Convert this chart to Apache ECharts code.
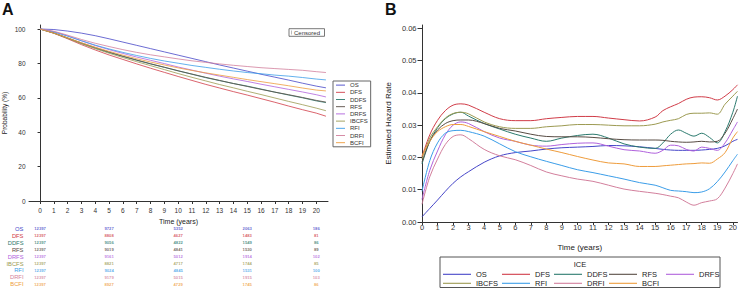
<!DOCTYPE html>
<html><head><meta charset="utf-8">
<script src="https://cdn.jsdelivr.net/npm/echarts@6/dist/echarts.min.js"></script>
<style>html,body{margin:0;padding:0;background:#fff}#c{width:740px;height:289px}</style>
</head><body><div id="c"></div>
<script>
// ---- categories ----
const names = ['OS','DFS','DDFS','RFS','DRFS','IBCFS','RFI','DRFI','BCFI'];
const colors = ['#4646c8','#d03c48','#2b7a6e','#584c44','#b062dc','#9c9a52','#3b9de8','#d27f9c','#ee9c3c'];

// ---- Panel A: Kaplan-Meier probability (%) ----
const kmTime = [0,1,2,3,4,5,6,7,8,9,10,11,12,13,14,15,16,17,18,19,20,20.7];
const kmOS    = [100,99.7,98.8,97.6,96.1,94.3,92.4,90.5,88.6,86.7,84.8,82.9,81.0,79.1,77.3,75.5,73.7,72.0,70.3,68.5,66.8,65.8];
const kmDFS   = [100,97.5,94.3,90.9,87.8,84.9,82.3,79.7,77.2,74.8,72.4,70.1,67.8,65.7,63.6,61.6,59.5,57.4,55.2,53.1,51.1,49.3];
const kmDDFS  = [100,97.7,94.7,91.6,88.8,86.3,84.0,81.8,79.7,77.7,75.7,73.7,71.7,70.0,68.3,66.8,65.1,63.3,61.6,60.0,58.2,57.2];
const kmRFS   = [100,97.7,94.8,91.9,89.2,86.6,84.2,82.0,79.8,77.8,75.7,73.8,71.9,70.1,68.3,66.6,64.9,63.3,61.8,60.2,58.5,57.5];
const kmDRFS  = [100,98.5,96.0,93.1,90.4,88.0,85.8,83.7,81.8,79.9,77.9,76.1,74.3,72.6,71.0,69.5,67.9,66.4,64.9,63.4,61.8,60.5];
const kmIBCFS = [100,97.6,94.6,91.5,88.6,85.9,83.4,81.0,78.7,76.4,74.1,71.9,69.8,67.7,65.8,63.8,61.9,59.9,57.9,56.0,54.0,52.5];
const kmRFI   = [100,98.3,95.8,93.2,90.6,88.4,86.4,84.6,82.9,81.4,80.1,78.8,77.7,76.6,75.6,74.7,74.0,73.2,72.6,71.8,70.9,70.4];
const kmDRFI  = [100,98.7,96.4,93.9,91.7,89.8,88.0,86.4,85.0,83.8,82.6,81.5,80.6,79.7,78.9,78.2,77.5,77.0,76.5,76.0,75.2,74.7];
const kmBCFI  = [100,97.6,94.8,92.0,89.4,87.0,84.8,82.7,80.8,79.1,77.4,75.9,74.5,73.2,71.9,70.6,69.4,68.2,67.0,65.7,64.5,64.0];
const kmAll = [kmOS,kmDFS,kmDDFS,kmRFS,kmDRFS,kmIBCFS,kmRFI,kmDRFI,kmBCFI];

// ---- Panel A: number at risk ----
const riskTime  = [0,5,10,15,20];
const riskOS    = [12397,9727,5352,2063,186];
const riskDFS   = [12397,8808,4627,1483,81];
const riskDDFS  = [12397,9056,4822,1549,86];
const riskRFS   = [12397,9019,4841,1530,89];
const riskDRFS  = [12397,9161,5012,1914,102];
const riskIBCFS = [12397,8821,4717,1744,85];
const riskRFI   = [12397,9024,4845,1531,100];
const riskDRFI  = [12397,9179,5015,1915,103];
const riskBCFI  = [12397,8927,4729,1745,86];
const riskAll = [riskOS,riskDFS,riskDDFS,riskRFS,riskDRFS,riskIBCFS,riskRFI,riskDRFI,riskBCFI];

// ---- Panel B: estimated hazard rate ----
const hzTime  = [0,0.5,1,1.5,2,2.5,3,4,5,6,7,8,9,10,11,12,13,14,15,15.5,16,16.5,17,17.5,18,18.5,19,19.5,20,20.3];
const hzOS    = [0.0016,0.0042,0.0068,0.0095,0.012,0.014,0.0156,0.0185,0.0205,0.0215,0.022,0.0226,0.023,0.0232,0.0234,0.0237,0.0236,0.0233,0.0228,0.0225,0.0223,0.0222,0.0222,0.0222,0.0223,0.0225,0.0228,0.0236,0.025,0.0256];
const hzDFS   = [0.0202,0.027,0.0315,0.0345,0.0362,0.0366,0.0362,0.034,0.032,0.0314,0.0314,0.032,0.0324,0.0327,0.0327,0.0322,0.0317,0.0313,0.0325,0.0345,0.0357,0.0367,0.038,0.0387,0.0388,0.0385,0.0378,0.039,0.041,0.0425];
const hzDDFS  = [0.018,0.025,0.0292,0.032,0.0335,0.034,0.0328,0.0305,0.0288,0.0272,0.026,0.025,0.026,0.0268,0.0272,0.026,0.0242,0.0232,0.0228,0.0245,0.0272,0.0285,0.0275,0.0266,0.0275,0.0262,0.0245,0.028,0.034,0.039];
const hzRFS   = [0.0185,0.025,0.0285,0.0305,0.0314,0.0316,0.0316,0.0305,0.029,0.0282,0.0272,0.0265,0.0264,0.0264,0.0262,0.0258,0.0255,0.0254,0.0254,0.0253,0.025,0.0248,0.0247,0.0248,0.025,0.0248,0.025,0.0275,0.032,0.035];
const hzDRFS  = [0.007,0.016,0.022,0.027,0.03,0.031,0.0305,0.028,0.026,0.025,0.0238,0.0235,0.024,0.0244,0.0245,0.0235,0.0224,0.022,0.0213,0.0222,0.0238,0.0236,0.0225,0.022,0.0232,0.0228,0.0222,0.0245,0.0285,0.031];
const hzIBCFS = [0.0195,0.026,0.0295,0.0322,0.0336,0.034,0.0335,0.031,0.0295,0.029,0.029,0.0295,0.0298,0.0302,0.0302,0.03,0.0298,0.0298,0.0303,0.031,0.0315,0.032,0.0333,0.0337,0.0337,0.0338,0.0334,0.0365,0.039,0.0405];
const hzRFI   = [0.0095,0.019,0.0245,0.0275,0.0283,0.0284,0.028,0.0266,0.0242,0.0218,0.0202,0.0188,0.0175,0.0162,0.0153,0.0143,0.0133,0.0122,0.0114,0.0106,0.0098,0.0096,0.0094,0.0091,0.0093,0.0103,0.0125,0.0155,0.019,0.021];
const hzDRFI  = [0.0055,0.014,0.0195,0.024,0.0265,0.027,0.0258,0.0225,0.0205,0.0193,0.0175,0.0155,0.0143,0.0133,0.0126,0.0114,0.0102,0.0095,0.0089,0.0085,0.008,0.0075,0.0062,0.0052,0.006,0.0065,0.0072,0.0105,0.015,0.018];
const hzBCFI  = [0.0205,0.025,0.028,0.0295,0.0302,0.0302,0.0296,0.028,0.0265,0.025,0.0238,0.0226,0.0215,0.0203,0.0192,0.0183,0.018,0.0172,0.0172,0.0174,0.0176,0.0178,0.018,0.0181,0.0183,0.0182,0.0195,0.0215,0.026,0.028];
const hzAll = [hzOS,hzDFS,hzDDFS,hzRFS,hzDRFS,hzIBCFS,hzRFI,hzDRFI,hzBCFI];

// ---- tick labels ----
const xTicksA = [0,1,2,3,4,5,6,7,8,9,10,11,12,13,14,15,16,17,18,19,20];
const yTicksA = [0,20,40,60,80,100];
const xTicksB = [0,1,2,3,4,5,6,7,8,9,10,11,12,13,14,15,16,17,18,19,20];
const yTicksB = [0,0.01,0.02,0.03,0.04,0.05,0.06];

// ---- layout constants ----
const FONT = 'Liberation Sans';
const AX = '#333';
const colLeftsB = [443,502,554,609,666];

const chart = echarts.init(document.getElementById('c'), null, {renderer:'svg'});

const series = [];
names.forEach((n,i)=>{
  series.push({
    name:n, type:'line', xAxisIndex:0, yAxisIndex:0,
    data: kmTime.map((t,j)=>[t, kmAll[i][j]]),
    symbol:'none', showSymbol:false, smooth:false,
    lineStyle:{width:0.8, color:colors[i]}, itemStyle:{color:colors[i]}, silent:true
  });
});
names.forEach((n,i)=>{
  series.push({
    name:n+' at risk', type:'scatter', xAxisIndex:1, yAxisIndex:1,
    data: riskTime.map((t,j)=>[t, n, riskAll[i][j]]),
    symbolSize:1, itemStyle:{color:'rgba(0,0,0,0)'}, silent:true,
    label:{show:true, position:'inside', formatter:p=>String(p.value[2]),
      fontSize:4.2, fontWeight:'bold', color:colors[i], fontFamily:FONT}
  });
});
names.forEach((n,i)=>{
  series.push({
    name:n, type:'line', xAxisIndex:2, yAxisIndex:2,
    data: hzTime.map((t,j)=>[t, hzAll[i][j]]),
    symbol:'none', showSymbol:false, smooth:0.35,
    lineStyle:{width:1, color:colors[i]}, itemStyle:{color:colors[i]}, silent:true
  });
});

const legends = [{
  data:names, left:333, top:81, orient:'vertical', icon:'rect',
  itemWidth:9, itemHeight:0.9, itemGap:0, padding:[0.5,3,0.5,3],
  borderColor:'#666', borderWidth:1, selectedMode:false,
  textStyle:{fontSize:6, color:'#333', fontFamily:FONT, lineHeight:7.2, height:7.2}
}];
colLeftsB.forEach((l,c)=>{
  legends.push({
    data:names.filter((_,i)=>i%5===c), left:l, top:269.8, orient:'vertical', icon:'rect',
    itemWidth:28, itemHeight:1.1, itemGap:0, padding:0, selectedMode:false,
    textStyle:{fontSize:7.5, color:'#222', fontFamily:FONT, lineHeight:9, height:9}
  });
});

const option = {
  animation:false,
  backgroundColor:'#fff',
  textStyle:{fontFamily:FONT},
  grid:[
    {left:29, top:25, width:299, height:176},
    {left:29, top:225.5, width:299, height:62.3},
    {left:422, top:25, width:316.7, height:197}
  ],
  xAxis:[
    {gridIndex:0, type:'value', min:-0.8, max:20.85,
      axisLine:{lineStyle:{color:AX, width:1}},
      axisTick:{customValues:xTicksA, length:3, lineStyle:{color:AX}},
      axisLabel:{customValues:xTicksA, fontSize:6.5, color:'#333', margin:5.5},
      splitLine:{show:false},
      name:'Time (years)', nameLocation:'middle', nameGap:16.5,
      nameTextStyle:{fontSize:7, color:'#222'}},
    {gridIndex:1, type:'value', min:-0.8, max:20.85, show:false},
    {gridIndex:2, type:'value', min:0, max:20.3,
      axisLine:{lineStyle:{color:AX, width:1}},
      axisTick:{customValues:xTicksB, length:3, lineStyle:{color:AX}},
      axisLabel:{customValues:xTicksB, fontSize:7.5, color:'#333', margin:1.5},
      splitLine:{show:false},
      name:'Time (years)', nameLocation:'middle', nameGap:21.5,
      nameTextStyle:{fontSize:8, color:'#222'}}
  ],
  yAxis:[
    {gridIndex:0, type:'value', min:0, max:102.33,
      axisLine:{show:true, lineStyle:{color:AX, width:1}},
      axisTick:{show:true, customValues:yTicksA, length:2.5, lineStyle:{color:AX}},
      axisLabel:{customValues:yTicksA, fontSize:6.5, color:'#333', margin:3.5},
      splitLine:{show:false},
      name:'Probability (%)', nameLocation:'middle', nameGap:21,
      nameTextStyle:{fontSize:6.5, color:'#222'}},
    {gridIndex:1, type:'category', data:names, inverse:true,
      axisLine:{show:false}, axisTick:{show:false}, splitLine:{show:false},
      axisLabel:{interval:0, fontSize:5.8, margin:5.5, color:(v,idx)=>colors[names.indexOf(v)]}},
    {gridIndex:2, type:'value', min:0, max:0.06103,
      axisLine:{show:true, lineStyle:{color:AX, width:1}},
      axisTick:{show:true, customValues:yTicksB, length:4.5, lineStyle:{color:AX}},
      axisLabel:{customValues:yTicksB, fontSize:7.5, color:'#333', margin:5.5,
        formatter:v=>Number(v).toFixed(2)},
      splitLine:{show:false},
      name:'Estimated Hazard Rate', nameLocation:'middle', nameGap:30,
      nameTextStyle:{fontSize:8, color:'#222'}}
  ],
  legend:legends,
  graphic:[
    {type:'text', left:2, top:1, style:{text:'A', fontSize:16, fontWeight:'bold', fill:'#111', fontFamily:FONT}},
    {type:'text', left:385, top:1, style:{text:'B', fontSize:16, fontWeight:'bold', fill:'#111', fontFamily:FONT}},
    {type:'rect', shape:{x:289, y:28.7, width:35.5, height:7.6}, style:{fill:'none', stroke:'#555', lineWidth:0.8}},
    {type:'line', shape:{x1:291.5, y1:30.5, x2:291.5, y2:34.5}, style:{stroke:'#aaa', lineWidth:0.8}},
    {type:'text', x:294, y:32.6, style:{text:'Censored', fontSize:6, fill:'#333', fontFamily:FONT, verticalAlign:'middle'}},
    {type:'rect', shape:{x:440, y:257, width:280, height:30.5}, style:{fill:'none', stroke:'#555', lineWidth:1}},
    {type:'text', x:580, y:264.7, style:{text:'ICE', fontSize:7.5, fill:'#222', fontFamily:FONT, align:'center', verticalAlign:'middle'}}
  ],
  series:series
};
chart.setOption(option);
</script></body></html>
